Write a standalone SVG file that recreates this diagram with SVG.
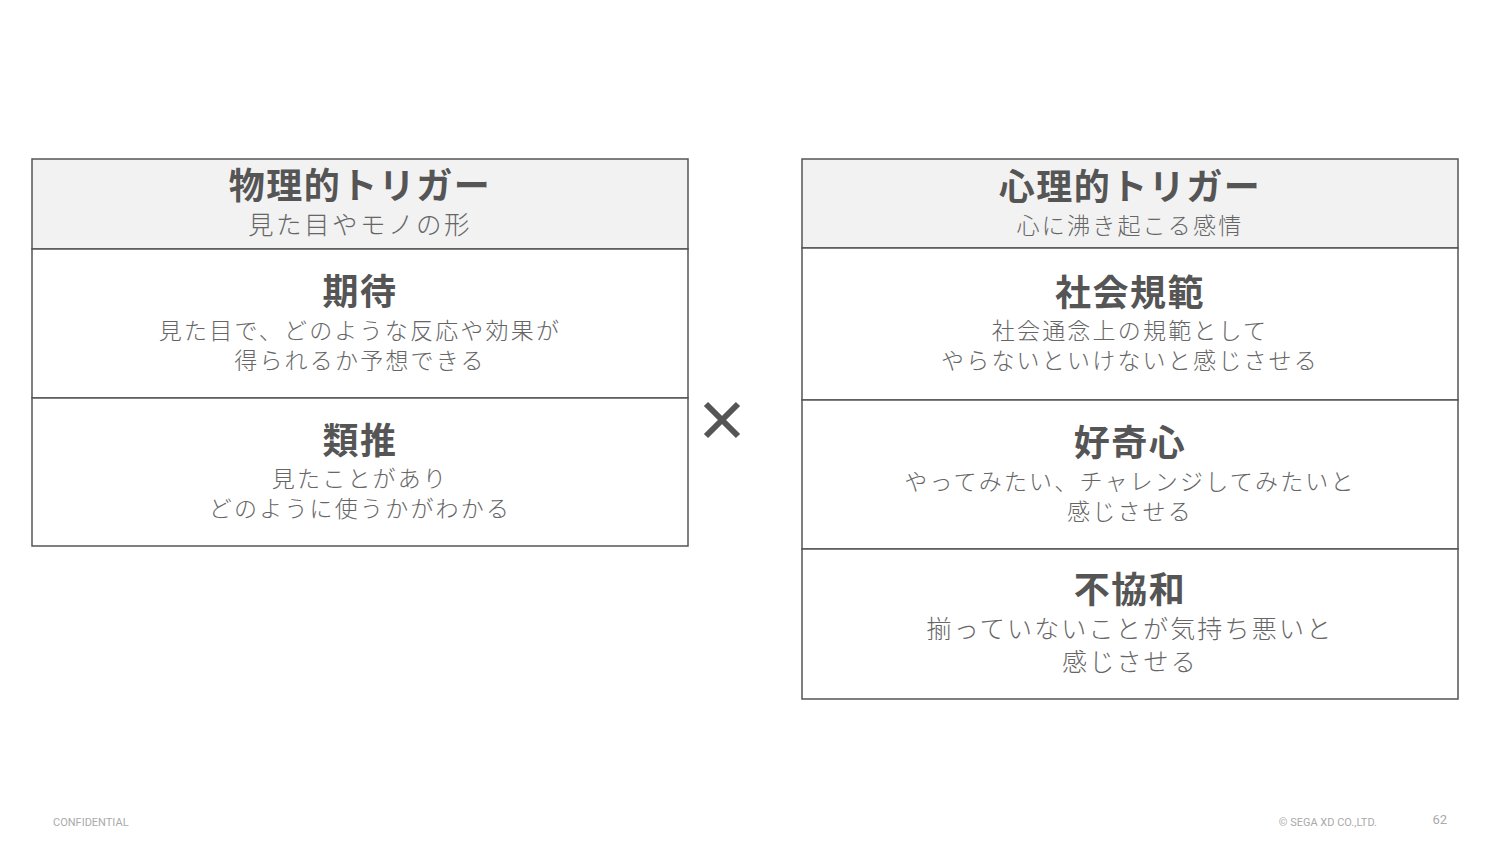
<svg xmlns="http://www.w3.org/2000/svg" width="1500" height="844" viewBox="0 0 1500 844">
<style>
text{font-family:"Noto Sans CJK JP","Noto Sans",sans-serif;text-anchor:middle}
.t{font-size:36px;font-weight:bold;fill:#555;letter-spacing:1.5px}
.s{font-size:23px;fill:#666;letter-spacing:2.2px;font-weight:300}
.hs{font-size:25.5px;letter-spacing:2.5px}
.b{fill:#fff;stroke:#555;stroke-width:1.5}
.h{fill:#f2f2f2;stroke:#555;stroke-width:1.5}
.f{font-family:Roboto,"Liberation Sans",sans-serif;font-size:11px;fill:#aaa}
</style>
<rect width="1500" height="844" fill="#fff"/>
<g id="phys-head"><rect class="h" x="32" y="159" width="656" height="90"/><text class="t" x="360" y="199">物理的トリガー</text><text class="s hs" x="360" y="234">見た目やモノの形</text></g>
<g id="kitai"><rect class="b" x="32" y="249" width="656" height="149"/><text class="t" x="360" y="305">期待</text><text class="s" x="360" y="339">見た目で、どのような反応や効果が</text><text class="s" x="360" y="369">得られるか予想できる</text></g>
<g id="ruisui"><rect class="b" x="32" y="398" width="656" height="148"/><text class="t" x="360" y="454">類推</text><text class="s" x="360" y="487">見たことがあり</text><text class="s" x="360" y="517">どのように使うかがわかる</text></g>
<g id="psy-head"><rect class="h" x="802" y="159" width="656" height="89"/><text class="t" x="1130" y="200">心理的トリガー</text><text class="s" x="1130" y="234">心に沸き起こる感情</text></g>
<g id="kihan"><rect class="b" x="802" y="248" width="656" height="152"/><text class="t" x="1130" y="306">社会規範</text><text class="s" x="1130" y="339">社会通念上の規範として</text><text class="s" x="1130" y="369">やらないといけないと感じさせる</text></g>
<g id="kouki"><rect class="b" x="802" y="400" width="656" height="149"/><text class="t" x="1130" y="456">好奇心</text><text class="s" x="1130" y="490">やってみたい、チャレンジしてみたいと</text><text class="s" x="1130" y="520">感じさせる</text></g>
<g id="fukyowa"><rect class="b" x="802" y="549" width="656" height="150"/><text class="t" x="1130" y="603">不協和</text><text class="s" x="1130" y="638" style="font-size:25px">揃っていないことが気持ち悪いと</text><text class="s" x="1130" y="671" style="font-size:25px">感じさせる</text></g>
<g id="connectors"><path d="M706 404 L738 436 M738 404 L706 436" stroke="#555" stroke-width="6"/></g>
<text class="f" x="53" y="826" style="text-anchor:start">CONFIDENTIAL</text>
<text class="f" x="1377" y="826" style="text-anchor:end">© SEGA XD CO.,LTD.</text>
<text class="f" x="1447" y="824" style="text-anchor:end;font-size:13px">62</text>
</svg>
